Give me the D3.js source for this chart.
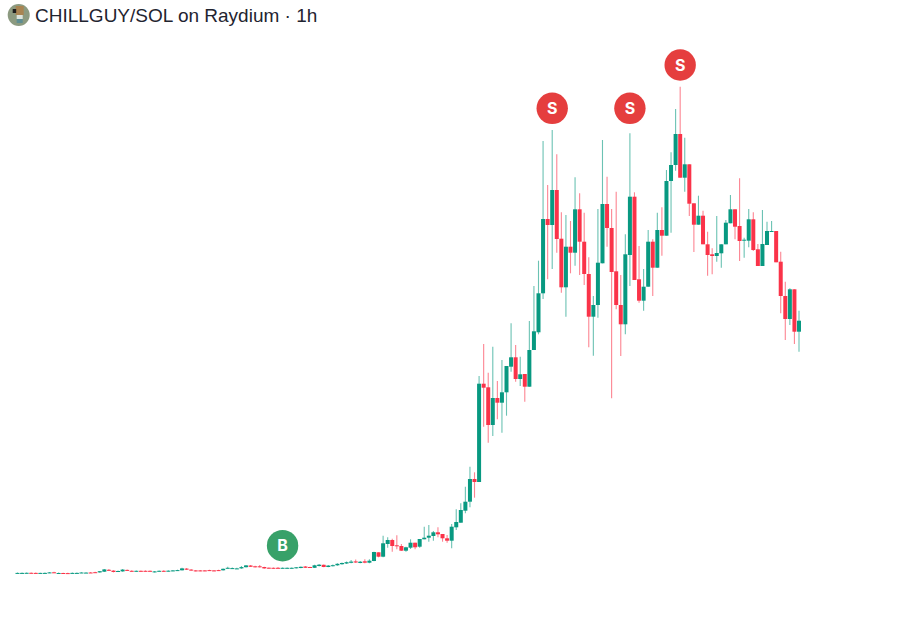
<!DOCTYPE html>
<html><head><meta charset="utf-8">
<script src="https://cdnjs.cloudflare.com/ajax/libs/d3/7.8.5/d3.min.js"></script>
<style>html,body{margin:0;padding:0;background:#fff}svg{display:block}</style>
</head><body><svg id="c" width="900" height="619"></svg>
<script>
const chartTitle = "CHILLGUY/SOL on Raydium · 1h";
// Price readings in chart units, oldest candle first.
const opens = [
.7,.7,.8,1.2,1.1,.7,.8,1.1,1.7,.7,
1,.9,.8,.8,1.1,1.1,1.5,1.8,1.6,2.3,
4.2,3.4,2.3,2.6,4.1,3.2,2.7,3.2,3.2,3.2,
2,2.8,3.2,2.8,3.2,3.4,3.7,5.4,4.4,3.6,
3.6,3.6,3.9,3.6,3.9,3.7,5.6,5.4,5.1,5.6,
6.8,8.5,7.7,7.7,7,6.3,6.2,6.2,5.7,5.7,
5.7,5.7,6,7.5,7,6.2,8,9.2,7,7.8,
8.7,9.8,10.5,11.2,12.6,11,
12.7,11.3,13,21.7,17.3,30,34,28.7,28,23.3,
26.3,31.3,27.3,34.7,36.3,38,41.7,40,35.7,33.3,
46.7,51.3,63.3,72.3,95,92,190.3,186.7,149,176,
171.3,181.7,207.3,216.7,195,200,187.3,224,241.7,280.7,
355,349,384,335.3,286.7,327.3,321.3,364.7,332.3,300,
257.3,269,310.7,370,346,302.7,269,249.7,319,377.3,
294.7,273.3,287.3,332.3,306.3,344,338.3,393,409,440,
396.3,409.7,370.7,349.3,358.3,329.7,319.7,318,320.7,329.7,
350.7,364.7,348,333.3,333.3,354.7,324.7,308,329,342.3,
343,312.3,278,255,284.7,242.3];
const closes = [
1.1,1.1,1.2,.8,.7,1.1,1.1,1.6,1.3,1,
.6,.6,1.1,1.1,1.5,1.4,1.1,1.3,2.8,4.6,
3.4,2,3,4.4,3.4,2.6,3.2,2.7,2.7,2.7,
2.6,3.2,2.7,3.3,3.6,3.9,5.6,4.3,3.7,2.8,
3,3.1,3.4,3.1,3.4,5.2,6.2,5.9,5.6,6.9,
8.6,7.2,7,7,5.6,5.5,5.6,5.7,6.2,6.2,
6.2,6.7,7.2,6.2,6.2,8.7,9.3,7,8.4,8.8,
10.2,11,11.8,12.4,11.5,12.3,
11.3,13.3,22,17.3,30.7,34,28,27.7,23.3,26.7,
31.3,26.7,35,36.3,38.3,41.7,39.7,35.7,33.3,47.3,
52,64,72.3,95,92,190.3,186.3,149,176,171.3,
181.7,208,216.7,195,199.7,187.3,224,242.7,280.7,355,
349,384,335,286.7,327.3,321.3,364.7,332.3,300,257.3,
269,311.3,370,346,302,269,249.7,319.7,377.3,294,
273.3,287.3,332.3,306.3,344,338.3,393,409,440,396.3,
409.7,370.3,349.3,358.3,329.7,319,318,321,329.7,351.3,
364.7,347.3,333,334.3,354.7,324,308,330,343,343,
311.7,278,255,284.7,242.3,253.3];
const highs = [
1.5,1.4,1.6,1.5,1.4,1.3,1.5,2,2.2,1.4,
1.3,1.2,1.4,1.5,1.8,1.8,1.9,2.2,3.1,5,
5,3.8,3.4,4.9,4.6,3.7,3.6,3.6,3.6,3.5,
3,3.6,3.8,3.8,4,4.3,6.2,5.9,4.9,4.1,
4,4,4.3,4,4.3,5.6,7.3,6.6,6.2,8,
9,8.9,8.2,9,7.2,6.6,6.6,7,6.6,6.5,
6.5,7,7.5,7.9,7.3,9.3,10,9.6,9,9.5,
10.8,11.5,12.5,14,14.5,13,
14.7,14.7,22.3,21.7,38.3,36.7,35.3,38.7,30,27.3,
34.7,31.3,35,47.3,49,43,46.7,40,39,50,
64.7,70.7,87.3,107.3,101.7,198,230,201.3,227.3,193,
214,208,250.7,229,217.3,200,253,288,313.3,433,
389,444,419.7,361.7,359,353,396.7,380.7,361.3,316.7,
278,365,434,397.3,365,382.3,299,339.7,440.7,381.7,
328,305,344,334.7,361.3,366.7,404,421.7,465,487.3,
436.3,409.7,370.7,378.3,363.3,342.3,325.7,358,329.7,354,
379,364.7,395.7,336.3,365,361.7,330,364,352.3,353,
343,322.3,292.3,285.7,284.7,263.3];
const lows = [
.4,.4,.5,.5,.4,.4,.5,.9,1,.4,
.4,.3,.6,.6,.9,.9,.9,1.1,1.3,2,
3,1.6,2,2.2,3,2.2,2.3,2.3,2.4,2.4,
1.6,2.4,2.3,2.4,2.8,3,3.4,4,3.3,2.4,
2.7,2.7,3,2.8,3.1,3.4,5.4,5,4.9,5.3,
6.5,6.9,6.6,6.6,5.3,5.2,5.3,5.4,5.4,5.4,
5.4,5.4,5.7,5.9,5.9,5.9,7.6,6.7,6.7,7.4,
8.3,9.3,10,10.8,11,10.7,
10.7,10.7,12.7,16.7,16.7,26.3,22.3,24.7,23,22.3,
25,24.7,26.3,34.7,32.3,33.3,36.7,32.3,31.3,25.7,
44,51.3,60.7,66.7,76.3,92,147.3,131.3,138,154.7,
141.3,158.3,202.3,192.3,188,172.3,187.3,224,239.7,275,
294.7,305,321.3,281.3,257.3,300.7,308.3,299,289,226.7,
218.3,256.3,310.7,327.3,175.7,264.7,218,239.7,288,294,
271.3,263.3,287.3,278,306.3,318.3,338.3,341.3,403.3,396.3,
382.3,358,322,349.3,329.7,298.3,299.7,312.3,306.3,329.7,
350.7,334.7,313,316.3,326.7,323,308,308,329,342.3,
311.7,260.7,234,249,230,222.3];
const signalLabels = ["B","S","S","S"];
const signalCandles = [58,117,134,145];
const signalPrices = [28.3,465.7,465.7,509];

const colors = {up:"#089981", down:"#FA3349", buy:"#38A169", sell:"#E53E3E", text:"#1F2430"};
const svg = d3.select("#c");
const idx = d3.range(opens.length);
const x = d3.scalePoint().domain(idx).range([17.5,799]);
const y = d3.scaleLinear().domain([0,500]).range([574,74]);
const col = i => closes[i] >= opens[i] ? colors.up : colors.down;
const bodyW = 4;

const g = svg.append("g");
g.selectAll("line.w").data(idx).join("line").attr("class","w")
  .attr("x1",i=>x(i)).attr("x2",i=>x(i))
  .attr("y1",i=>y(highs[i])).attr("y2",i=>y(lows[i]))
  .attr("stroke",col).attr("stroke-width",1.1).attr("stroke-opacity",0.6);
g.selectAll("rect.b").data(idx).join("rect").attr("class","b")
  .attr("x",i=>x(i)-bodyW/2).attr("width",bodyW)
  .attr("y",i=>y(Math.max(opens[i],closes[i])))
  .attr("height",i=>Math.max(1,Math.abs(y(opens[i])-y(closes[i]))))
  .attr("fill",col);

const sig = svg.selectAll("g.sig").data(signalLabels).join("g").attr("class","sig")
  .attr("transform",(d,k)=>`translate(${x(signalCandles[k])},${y(signalPrices[k])})`);
sig.append("circle").attr("r",15.7).attr("fill",d=>d==="B"?colors.buy:colors.sell);
sig.append("text").text(d=>d).attr("text-anchor","middle").attr("dy","0.36em")
  .attr("fill","#fff").attr("font-family","Inter, 'Liberation Sans', sans-serif")
  .attr("font-weight",700).attr("font-size",16);

// token avatar
const av = svg.append("g").attr("transform","translate(18.7,15)");
av.append("circle").attr("r",11).attr("fill","#8C9A80");
av.append("rect").attr("x",-3).attr("y",-9).attr("width",8).attr("height",9).attr("fill","#A98452");
av.append("rect").attr("x",-6).attr("y",-6).attr("width",3.5).attr("height",4).attr("fill","#1E1E1E");
av.append("rect").attr("x",-2).attr("y",0).attr("width",6).attr("height",4).attr("fill","#DDE3DC");
av.append("rect").attr("x",-2).attr("y",4).attr("width",6).attr("height",4).attr("fill","#5F8E92");

svg.append("text").attr("x",35).attr("y",22).text(chartTitle)
  .attr("fill",colors.text).attr("font-family","'Liberation Sans', Arial, sans-serif")
  .attr("font-size",19);
</script></body></html>
